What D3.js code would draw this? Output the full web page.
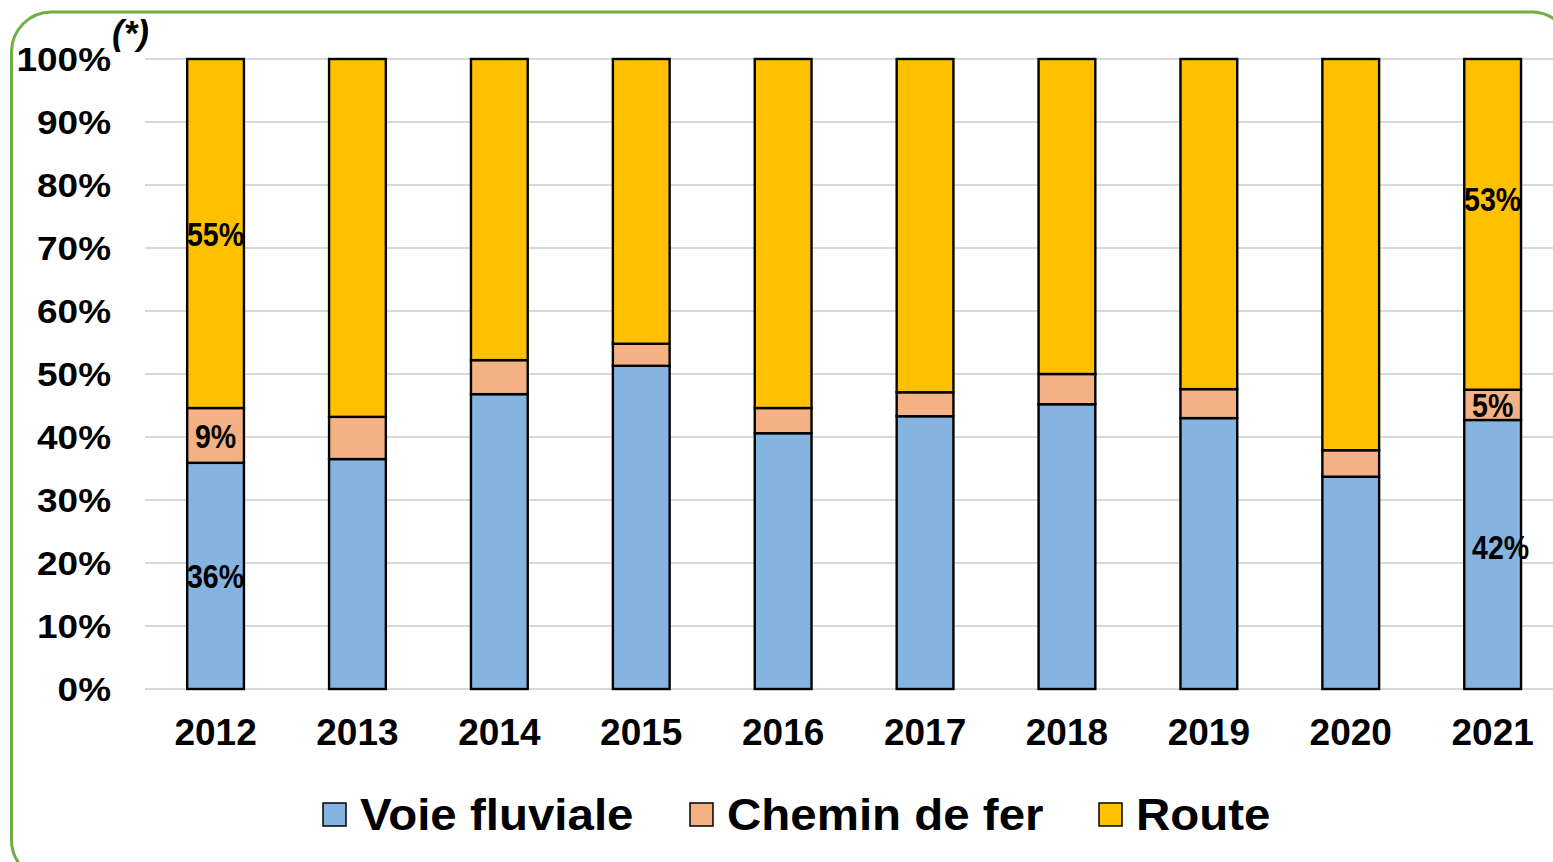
<!DOCTYPE html>
<html>
<head>
<meta charset="utf-8">
<script src="https://cdn.jsdelivr.net/npm/d3@7"></script>
<style>
  html, body { margin: 0; padding: 0; background: #fff; }
  svg { display: block; }
</style>
</head>
<body>
<svg id="chart" width="1553" height="862"></svg>
<script>
const years = ["2012","2013","2014","2015","2016","2017","2018","2019","2020","2021"];
const seriesNames = ["Voie fluviale","Chemin de fer","Route"];
const voieFluviale = [35.9, 36.5, 46.8, 51.3, 40.6, 43.3, 45.2, 43.0, 33.7, 42.7];
const cheminDeFer  = [8.7, 6.7, 5.4, 3.5, 4.0, 3.8, 4.8, 4.6, 4.2, 4.8];
const route        = [55.4, 56.8, 47.8, 45.2, 55.4, 52.9, 50.0, 52.4, 62.1, 52.5];
const yTicks = [0,10,20,30,40,50,60,70,80,90,100];
const labelYears  = ["2012","2012","2012","2021","2021","2021"];
const labelSeries = ["Voie fluviale","Chemin de fer","Route","Voie fluviale","Chemin de fer","Route"];
const labelTexts  = ["36%","9%","55%","42%","5%","53%"];

const colors = ["#85B4E0", "#F4B183", "#FFC000"];

const svg = d3.select("#chart");
const W = 1553, H = 862;

// frame
svg.append("rect")
  .attr("x", 11.5).attr("y", 12).attr("width", 1560).attr("height", 868)
  .attr("rx", 40).attr("ry", 40)
  .attr("fill", "#fff").attr("stroke", "#70AD47").attr("stroke-width", 3);

const x = d3.scaleBand().domain(years).range([144.6, 1563.6]).paddingInner(0.6).paddingOuter(0.3);
const y = d3.scaleLinear().domain([0, 100]).range([689, 59]);

// gridlines
svg.append("g").selectAll("line").data(yTicks).join("line")
  .attr("x1", 145).attr("x2", W)
  .attr("y1", d => y(d)).attr("y2", d => y(d))
  .attr("stroke", "#D9D9D9").attr("stroke-width", 2);

// y axis labels
const yAxis = d3.axisLeft(y).tickValues(yTicks).tickFormat(d => d + "%").tickSize(0).tickPadding(0);
const gy = svg.append("g").attr("transform", "translate(111,0)").call(yAxis);
gy.select(".domain").remove();
gy.selectAll("text")
  .attr("font-family", "Liberation Sans, Arial, sans-serif")
  .attr("font-weight", "bold").attr("font-size", 33).attr("fill", "#000")
  .attr("dy", "0.36em")
  .attr("transform", function(d){ return `translate(0,${y(d)}) scale(1.12,1) translate(0,${-y(d)})`; });

// (*) note
svg.append("text").attr("x", 112).attr("y", 45)
  .attr("font-family", "Liberation Sans, Arial, sans-serif")
  .attr("font-weight", "bold").attr("font-style", "italic").attr("font-size", 35)
  .text("(*)");

// stacked data
const table = years.map((yr, i) => ({year: yr, "Voie fluviale": voieFluviale[i], "Chemin de fer": cheminDeFer[i], "Route": route[i]}));
const stack = d3.stack().keys(seriesNames);
const stacked = stack(table);

const layers = svg.append("g").selectAll("g").data(stacked).join("g")
  .attr("fill", (d, i) => colors[i]);
layers.selectAll("rect").data(d => d).join("rect")
  .attr("x", d => x(d.data.year))
  .attr("width", x.bandwidth())
  .attr("y", d => y(Math.min(d[1], 100)))
  .attr("height", d => y(d[0]) - y(Math.min(d[1], 100)))
  .attr("stroke", "#000").attr("stroke-width", 2.4);

// x axis labels
const xAxis = d3.axisBottom(x).tickSize(0).tickPadding(0);
const gx = svg.append("g").attr("transform", "translate(0,745)").call(xAxis);
gx.select(".domain").remove();
gx.selectAll("text")
  .attr("font-family", "Liberation Sans, Arial, sans-serif")
  .attr("font-weight", "bold").attr("font-size", 37).attr("fill", "#000")
  .attr("dy", 0).attr("y", 0);

// data labels
const labelOffsets = [[0, 0], [0, 0], [0, 0], [8, -8], [0, 0], [0, -26]];
labelTexts.forEach((t, k) => {
  const si = seriesNames.indexOf(labelSeries[k]);
  const yi = years.indexOf(labelYears[k]);
  const seg = stacked[si][yi];
  const cx = x(labelYears[k]) + x.bandwidth() / 2 + labelOffsets[k][0];
  const cy = y((seg[0] + seg[1]) / 2) + labelOffsets[k][1];
  svg.append("text")
    .attr("transform", `translate(${cx},${cy}) scale(0.84,1)`)
    .attr("text-anchor", "middle").attr("dy", "0.36em")
    .attr("font-family", "Liberation Sans, Arial, sans-serif")
    .attr("font-weight", "bold").attr("font-size", 34).attr("fill", "#000")
    .text(t);
});

// legend
const legendX = [323, 690, 1099];
const lg = svg.append("g");
seriesNames.forEach((name, i) => {
  lg.append("rect").attr("x", legendX[i]).attr("y", 803).attr("width", 23).attr("height", 23)
    .attr("fill", colors[i]).attr("stroke", "#000").attr("stroke-width", 1.5);
  lg.append("text")
    .attr("transform", `translate(${legendX[i] + 37},830) scale(1.055,1)`)
    .attr("font-family", "Liberation Sans, Arial, sans-serif")
    .attr("font-weight", "bold").attr("font-size", 45).attr("fill", "#000")
    .text(name);
});
</script>
</body>
</html>
